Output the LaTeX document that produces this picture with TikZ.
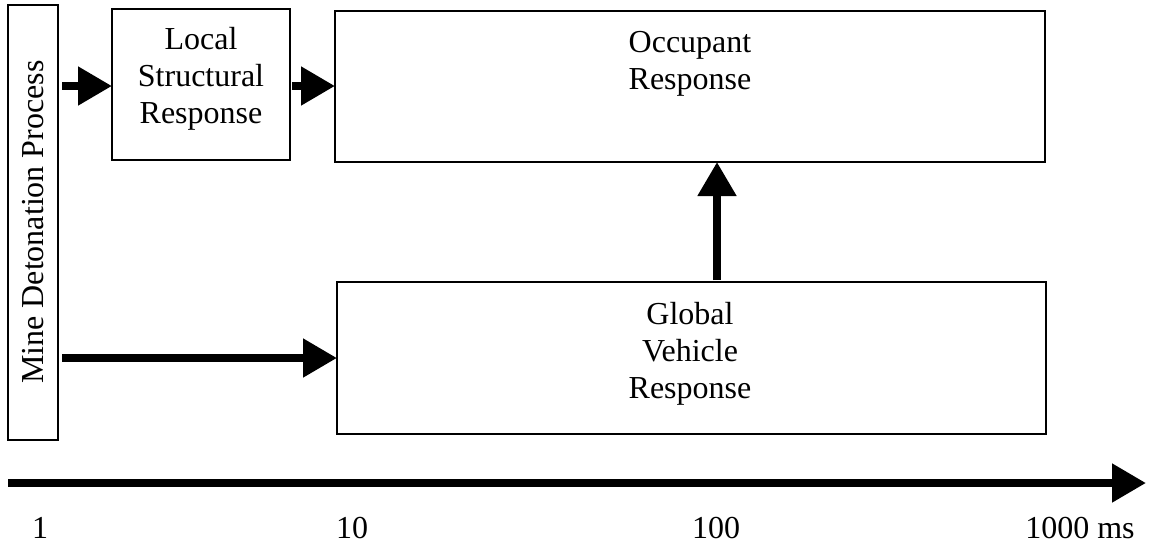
\documentclass[tikz,border=0pt]{standalone}
\usepackage{fontspec}
\setmainfont{Liberation Serif}
\usetikzlibrary{arrows.meta}
\begin{document}
\begin{tikzpicture}[x=1pt,y=-1pt,
  box/.style={draw, line width=1.2pt, inner sep=0pt},
  lbl/.style={font=\fontsize{32}{37}\selectfont, align=center, inner sep=0pt},
  thick arrow/.style={line width=8pt, -{Triangle[length=34pt,width=37pt]}},
  axis/.style={line width=8pt, -{Triangle[length=34pt,width=37pt]}}]
\useasboundingbox (0,0) rectangle (1153,550);
% process boxes
\draw[box] (8,5) rectangle (58,440);
\node[lbl, rotate=90] (mine) at (33,222) {Mine Detonation Process};
\draw[box] (112,9) rectangle (290,160);
\node[lbl] (local) at (201,79) {Local\\Structural\\Response};
\draw[box] (335,11) rectangle (1045,162);
\node[lbl] (occ) at (690,64) {Occupant\\Response};
\draw[box] (337,282) rectangle (1046,434);
\node[lbl] (glob) at (690,354) {Global\\Vehicle\\Response};
% anchor points of the connectors
\coordinate (a1s) at (62,86);
\coordinate (a1e) at (112,86);
\coordinate (a2s) at (292,86);
\coordinate (a2e) at (335,86);
\coordinate (a3s) at (62,358);
\coordinate (a3e) at (337,358);
\coordinate (a4s) at (717,280);
\coordinate (a4e) at (717,162);
\coordinate (ts) at (8,483);
\coordinate (te) at (1146,483);
\draw[thick arrow] (a1s) -- (a1e);
\draw[thick arrow] (a2s) -- (a2e);
\draw[thick arrow] (a3s) -- (a3e);
\draw[thick arrow] (a4s) -- (a4e);
% time axis
\draw[axis] (ts) -- (te);
\node[lbl] (t1) at (40,528) {1};
\node[lbl] (t10) at (352,528) {10};
\node[lbl] (t100) at (716,528) {100};
\node[lbl] (t1000) at (1080,528) {1000 ms};
\end{tikzpicture}
\end{document}
